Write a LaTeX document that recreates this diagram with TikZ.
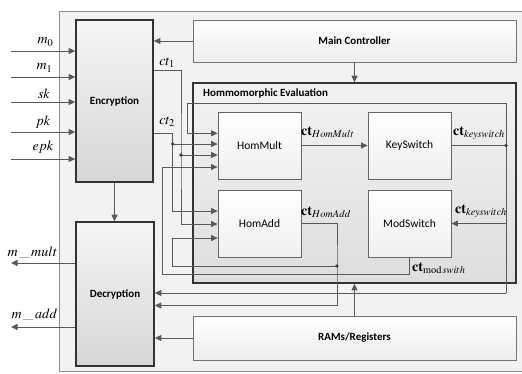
\documentclass[tikz,border=0pt]{standalone}
\usepackage{mathptmx}
\usepackage[no-math]{fontspec}
\newfontfamily\cb{Carlito}
\usetikzlibrary{arrows.meta,calc}
\tikzset{
  bigbox/.style={draw=black!80, line width=1.6pt, top color=black!4, bottom color=black!16, inner sep=0pt, font=\cb\bfseries\fontsize{11}{13}\selectfont},
  widebox/.style={draw=black!55, line width=0.8pt, top color=white, bottom color=black!7, inner sep=0pt, minimum width=323pt, font=\cb\bfseries\fontsize{11}{13}\selectfont},
  evalbox/.style={draw=black!80, line width=1.6pt, top color=black!5, bottom color=black!13, inner sep=0pt},
  smallbox/.style={draw=black!60, line width=0.8pt, top color=white, bottom color=black!6, inner sep=0pt, minimum width=83pt, minimum height=67pt, font=\cb\fontsize{11.5}{13}\selectfont},
  wire/.style={draw=black!65, line width=0.8pt},
  arr/.style={wire, -{Triangle[length=6.5pt,width=6pt]}},
  jdot/.style={circle, fill=black!75, inner sep=0pt, minimum size=3.8pt},
  lab/.style={inner sep=0pt, font=\fontsize{14}{16}\selectfont},
}
\begin{document}
\begin{tikzpicture}[x=1pt,y=-1pt]
\useasboundingbox (0,0) rectangle (522,373);
\clip (0,0) rectangle (522,373);
\fill[white] (0,0) rectangle (522,373);
% outer frame
\node[draw=black!45, line width=0.8pt, fill=black!5, inner sep=0pt, minimum width=490pt, minimum height=360pt, anchor=north west] (frame) at (59,11) {};

% main blocks
\node[bigbox, minimum width=77pt, minimum height=162pt] (enc) at (114.5,101) {Encryption};
\node[bigbox, minimum width=78pt, minimum height=144pt] (dec) at (115,294) {Decryption};
\node[widebox, minimum height=42pt] (mc) at (354.5,41) {Main Controller};
\node[widebox, minimum height=44pt] (ram) at (354.5,338) {RAMs/Registers};
\node[evalbox, minimum width=323pt, minimum height=200pt] (he) at (354.5,183) {};
\node[anchor=west, inner sep=0pt, font=\cb\bfseries\fontsize{11}{13}\selectfont] (het) at (203,93) {Hommomorphic Evaluation};

\node[smallbox] (hm) at (259.5,145.5) {HomMult};
\node[smallbox] (ks) at (409.5,145.5) {KeySwitch};
\node[smallbox] (ha) at (259.5,223.5) {HomAdd};
\node[smallbox] (ms) at (409.5,223.5) {ModSwitch};

% inputs
\coordinate (i0) at (11,51);
\coordinate (i1) at (11,77);
\coordinate (i2) at (11,102);
\coordinate (i3) at (11,132);
\coordinate (i4) at (11,159);
\foreach \c in {i0,i1,i2,i3,i4} \draw[arr] (\c) -- (\c -| enc.west);
\node[lab] (l0) at (45.5,42) {$m_0$};
\node[lab] (l1) at (44.5,68) {$m_1$};
\node[lab] (l2) at (44,94) {$sk$};
\node[lab] (l3) at (43,122) {$pk$};
\node[lab] (l4) at (43,147.5) {$epk$};

% outputs
\coordinate (o0) at (11,263);
\coordinate (o1) at (11,327);
\draw[arr] (dec.west |- o0) -- (o0);
\draw[arr] (dec.west |- o1) -- (o1);
\node[lab] (lo0) at (32.5,253) {$m\,\_\,mult$};
\node[lab] (lo1) at (34.5,315) {$m\,\_\,add$};

% control arrows
\draw[arr] (mc.west) -- (mc.west -| enc.east);
\draw[arr] (mc.south) -- (he.north);
\draw[arr] (enc.south) -- (enc.south |- dec.north);
\draw[arr] (ram.west) -- (ram.west -| dec.east);
\draw[arr] (ram.north) -- (he.south);

% ct1 and ct2
\coordinate (j1) at (181,155);
\coordinate (j2) at (172.7,144);
\coordinate (e1) at (153,70);
\coordinate (e2) at (153,133.3);
\draw[arr] (e1 -| enc.east) -| (j1) |- (ha.west |- 0,224);
\draw[arr] (j1) -- (j1 -| hm.west);
\draw[arr] (e2 -| enc.east) -| (j2) |- (ha.west |- 0,211);
\draw[arr] (j2) -- (j2 -| hm.west);
\node[lab] (lc1) at (167,63) {$ct_1$};
\node[lab] (lc2) at (167,122) {$ct_2$};

% HomMult -> KeySwitch
\draw[arr] (hm.east) -- (ks.west);
\node[lab, anchor=west] (lhm) at (301,132) {$\mathbf{ct}_{HomMult}$};

% KeySwitch output and feedback
\coordinate (j3) at (506,145.5);
\coordinate (ft) at (506,103);
\coordinate (fb) at (506,293);
\coordinate (fl) at (187,103);
\draw[wire] (ks.east) -- (j3);
\draw[arr] (fb) -- (ft) -- (fl) |- (hm.west |- 0,133.3);
\draw[arr] (fb) -- (fb -| dec.east);
\draw[arr] (fb |- ms.east) -- (ms.east);
\node[lab, anchor=west] (lks1) at (453,133) {$\mathbf{ct}_{keyswitch}$};
\node[lab, anchor=west] (lks2) at (455,211) {$\mathbf{ct}_{keyswitch}$};

% HomAdd output
\coordinate (j4) at (337,266);
\coordinate (a1) at (172.7,238);
\draw[arr] (ha.east) -| (j4) |- (dec.east |- 0,305.5);
\draw[arr] (j4) -| (a1) -- (a1 -| ha.west);
\node[lab, anchor=west] (lha) at (301,212) {$\mathbf{ct}_{HomAdd}$};

% ModSwitch output
\coordinate (m1) at (162,274);
\draw[arr] (ms.south) |- (m1) |- (hm.west |- 0,167);
\node[lab, anchor=west] (lms) at (412,268) {$\mathbf{ct}_{\mathrm{mod}\,swith}$};

% junction dots
\foreach \j in {j1,j2,j3,j4} \node[jdot] at (\j) {};
\end{tikzpicture}
\end{document}
